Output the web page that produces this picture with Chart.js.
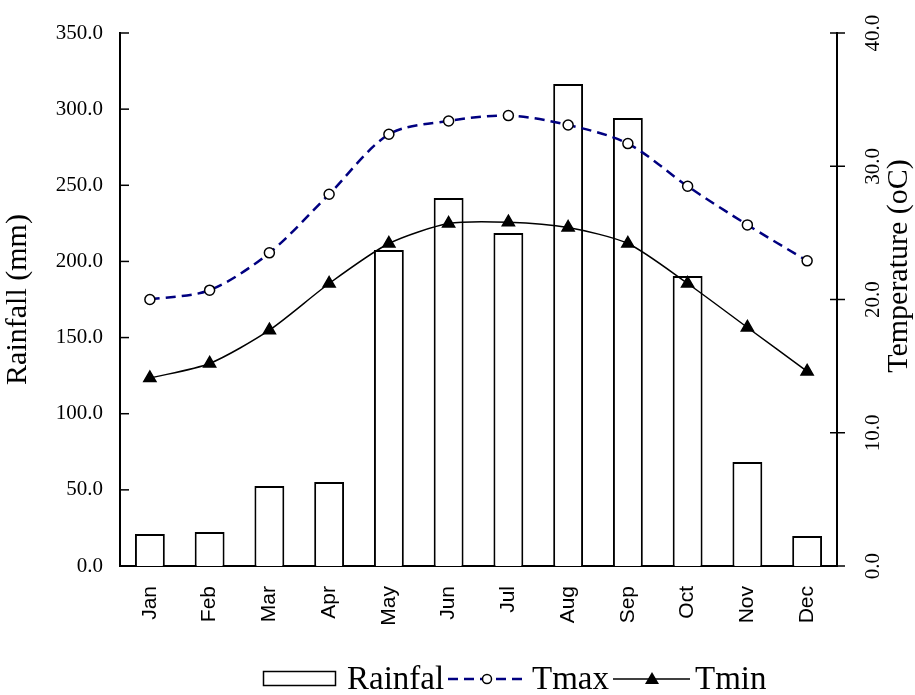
<!DOCTYPE html>
<html>
<head>
<meta charset="utf-8">
<script src="https://cdn.jsdelivr.net/npm/chart.js@4.4.1/dist/chart.umd.min.js"></script>
<style>
  body { margin: 0; background: #fff; }
  #climate { display: block; }
</style>
</head>
<body>
<canvas id="climate" width="915" height="695"></canvas>
<script>
const months = ['Jan', 'Feb', 'Mar', 'Apr', 'May', 'Jun', 'Jul', 'Aug', 'Sep', 'Oct', 'Nov', 'Dec'];
const rainfall = [21.0, 22.3, 52.5, 55.2, 207.5, 241.6, 218.6, 316.5, 294.2, 190.4, 68.3, 19.7];
const tmax = [20.0, 20.7, 23.5, 27.9, 32.4, 33.4, 33.8, 33.1, 31.7, 28.5, 25.6, 22.9];
const tmin = [14.1, 15.2, 17.7, 21.2, 24.2, 25.7, 25.8, 25.4, 24.2, 21.2, 17.9, 14.6];
const rainTicks = [0, 50, 100, 150, 200, 250, 300, 350];
const tempTicks = [0, 10, 20, 30, 40];

const serif = '"Liberation Serif", "Times New Roman", serif';
const sans = '"Liberation Sans", Arial, sans-serif';

// draws inward ticks, rotated right labels, right title and the legend
const extras = {
  id: 'extras',
  afterDraw(chart) {
    const ctx = chart.ctx;
    const yl = chart.scales.y;
    const yr = chart.scales.y1;
    ctx.save();
    ctx.strokeStyle = '#000';
    ctx.lineWidth = 1.5;
    yl.ticks.forEach(t => {
      const y = yl.getPixelForValue(t.value);
      ctx.beginPath();
      ctx.moveTo(yl.right, y);
      ctx.lineTo(yl.right + 9, y);
      ctx.stroke();
    });
    ctx.fillStyle = '#000';
    ctx.font = '21px ' + serif;
    yr.ticks.forEach(t => {
      const y = yr.getPixelForValue(t.value);
      ctx.beginPath();
      ctx.moveTo(yr.left - 7, y);
      ctx.lineTo(yr.left + 8, y);
      ctx.stroke();
      ctx.save();
      ctx.translate(yr.left + 36, y);
      ctx.rotate(-Math.PI / 2);
      ctx.textAlign = 'center';
      ctx.textBaseline = 'middle';
      ctx.fillText(t.value.toFixed(1), 0, 0);
      ctx.restore();
    });
    // right axis title
    ctx.save();
    ctx.font = '30px ' + serif;
    ctx.translate(899, 266);
    ctx.rotate(-Math.PI / 2);
    ctx.textAlign = 'center';
    ctx.textBaseline = 'middle';
    ctx.fillText('Temperature (oC)', 0, 0);
    ctx.restore();

    // legend
    const ly = 679;
    ctx.font = '33px ' + serif;
    ctx.textBaseline = 'alphabetic';
    ctx.textAlign = 'left';
    ctx.lineWidth = 1.5;
    ctx.strokeRect(263.5, 671.5, 72, 14);
    ctx.fillText('Rainfal', 347, 689);

    ctx.strokeStyle = '#000080';
    ctx.lineWidth = 2.5;
    ctx.setLineDash([10, 6]);
    ctx.beginPath();
    ctx.moveTo(448, ly);
    ctx.lineTo(522, ly);
    ctx.stroke();
    ctx.setLineDash([]);
    ctx.lineWidth = 1.5;
    ctx.strokeStyle = '#000';
    ctx.fillStyle = '#fff';
    ctx.beginPath();
    ctx.arc(487, ly, 4.5, 0, Math.PI * 2);
    ctx.fill();
    ctx.stroke();
    ctx.fillStyle = '#000';
    ctx.fillText('Tmax', 532, 689);

    ctx.beginPath();
    ctx.moveTo(613, ly);
    ctx.lineTo(690, ly);
    ctx.stroke();
    ctx.beginPath();
    ctx.moveTo(652, ly - 7);
    ctx.lineTo(659, ly + 5);
    ctx.lineTo(645, ly + 5);
    ctx.closePath();
    ctx.fill();
    ctx.fillText('Tmin', 695, 689);
    ctx.restore();
  }
};

new Chart(document.getElementById('climate'), {
  type: 'bar',
  data: {
    labels: months,
    datasets: [
      {
        type: 'line',
        label: 'Tmax',
        data: tmax,
        yAxisID: 'y1',
        borderColor: '#000080',
        borderWidth: 2.5,
        borderDash: [10, 6],
        tension: 0.3,
        pointStyle: 'circle',
        pointRadius: 5,
        pointBackgroundColor: '#fff',
        pointBorderColor: '#000',
        pointBorderWidth: 1.5,
        order: 1
      },
      {
        type: 'line',
        label: 'Tmin',
        data: tmin,
        yAxisID: 'y1',
        borderColor: '#000',
        borderWidth: 1.5,
        tension: 0.25,
        pointStyle: 'triangle',
        pointRadius: 7,
        pointBackgroundColor: '#000',
        pointBorderColor: '#000',
        order: 2
      },
      {
        label: 'Rainfal',
        data: rainfall,
        yAxisID: 'y',
        backgroundColor: '#fff',
        borderColor: '#000',
        borderWidth: 2,
        barPercentage: 0.5,
        categoryPercentage: 1.0,
        order: 3
      }
    ]
  },
  options: {
    responsive: false,
    animation: false,
    layout: { padding: { top: 33, left: 0, right: 0, bottom: 0 } },
    plugins: {
      legend: { display: false },
      tooltip: { enabled: false }
    },
    scales: {
      x: {
        grid: { display: false, drawTicks: false },
        border: { display: true, color: '#000', width: 2 },
        ticks: {
          color: '#000',
          font: { family: sans, size: 21 },
          minRotation: 90,
          maxRotation: 90,
          padding: 20
        },
        afterFit: s => { s.height = 129; }
      },
      y: {
        position: 'left',
        min: 0,
        max: 350,
        afterBuildTicks: s => { s.ticks = rainTicks.map(v => ({ value: v })); },
        grid: { display: false, drawTicks: false },
        border: { display: true, color: '#000', width: 2 },
        ticks: {
          color: '#000',
          font: { family: serif, size: 21 },
          padding: 17,
          callback: v => v.toFixed(1)
        },
        title: {
          display: true,
          text: 'Rainfall (mm)',
          color: '#000',
          font: { family: serif, size: 30 },
          padding: 0
        },
        afterFit: s => { s.width = 120; }
      },
      y1: {
        position: 'right',
        min: 0,
        max: 40,
        afterBuildTicks: s => { s.ticks = tempTicks.map(v => ({ value: v })); },
        grid: { display: false, drawTicks: false },
        border: { display: true, color: '#000', width: 2 },
        ticks: { display: false },
        afterFit: s => { s.width = 78; }
      }
    }
  },
  plugins: [extras]
});
</script>
</body>
</html>
